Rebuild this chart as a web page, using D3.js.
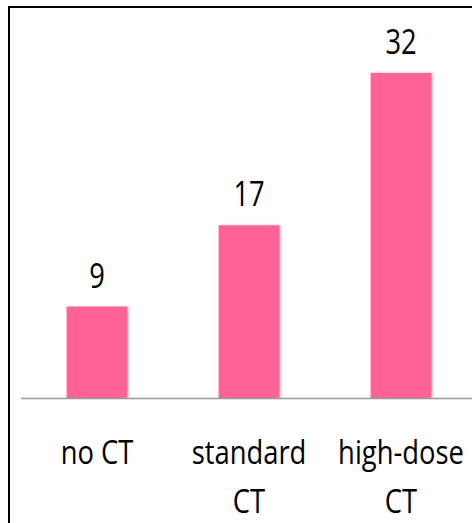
<!DOCTYPE html>
<html>
<head>
<meta charset="utf-8">
<script src="https://cdn.jsdelivr.net/npm/d3@7"></script>
<style>
  html, body { margin: 0; padding: 0; background: #fff; }
  svg { display: block; }
</style>
</head>
<body>
<svg id="chart" width="472" height="523"></svg>
<script>
const categories = ["no CT", "standard CT", "high-dose CT"];
const categoryLines = [["no CT"], ["standard", "CT"], ["high-dose", "CT"]];
const values = [9, 17, 32];
const yMax = 35;

const W = 472, H = 523;
const svg = d3.select("#chart");

const defs = svg.append("defs");
const f = defs.append("filter").attr("id", "shadow")
  .attr("x", "-20%").attr("y", "-5%").attr("width", "140%").attr("height", "110%");
f.append("feDropShadow").attr("dx", 1.5).attr("dy", 0).attr("stdDeviation", 1.2)
  .attr("flood-color", "#000").attr("flood-opacity", 0.25);

const x = d3.scaleBand().domain(categories).range([21, 477])
  .paddingInner(0.6).paddingOuter(0.3);
const y = d3.scaleLinear().domain([0, yMax]).range([398, 398 - yMax * 10.16]);

// frame
svg.append("path")
  .attr("d", `M9,${H} L9,7 L${W},7`)
  .attr("fill", "none").attr("stroke", "#000").attr("stroke-width", 2);

// bars
svg.append("g").selectAll("rect").data(values).join("rect")
  .attr("x", (d, i) => x(categories[i]))
  .attr("width", x.bandwidth())
  .attr("y", d => y(d))
  .attr("height", d => y(0) - y(d))
  .attr("fill", "#FF6496")
  .attr("filter", "url(#shadow)");

// axis line
const axis = svg.append("g").attr("transform", `translate(0,${y(0)})`)
  .call(d3.axisBottom(x).tickSize(0).tickFormat(""));
axis.select(".domain").attr("stroke", "#9a9a9a").attr("stroke-width", 1.5)
  .attr("d", `M21,0.5H${W}`);

const fontFam = "'Open Sans', 'Noto Sans', sans-serif";

// value labels
svg.append("g").selectAll("text").data(values).join("text")
  .attr("transform", (d, i) =>
    `translate(${x(categories[i]) + x.bandwidth() / 2},${y(d) - 19}) scale(0.78,1)`)
  .attr("text-anchor", "middle")
  .attr("font-family", fontFam)
  .attr("font-size", 35)
  .attr("fill", "#000")
  .text(d => d);

// category labels
const cg = svg.append("g");
categories.forEach((c, i) => {
  const cx = x(c) + x.bandwidth() / 2;
  categoryLines[i].forEach((line, j) => {
    cg.append("text")
      .attr("transform", `translate(${cx},${464 + j * 49}) scale(0.83,1)`)
      .attr("text-anchor", "middle")
      .attr("font-family", fontFam)
      .attr("font-size", 33)
      .attr("fill", "#000")
      .text(line);
  });
});
</script>
</body>
</html>
